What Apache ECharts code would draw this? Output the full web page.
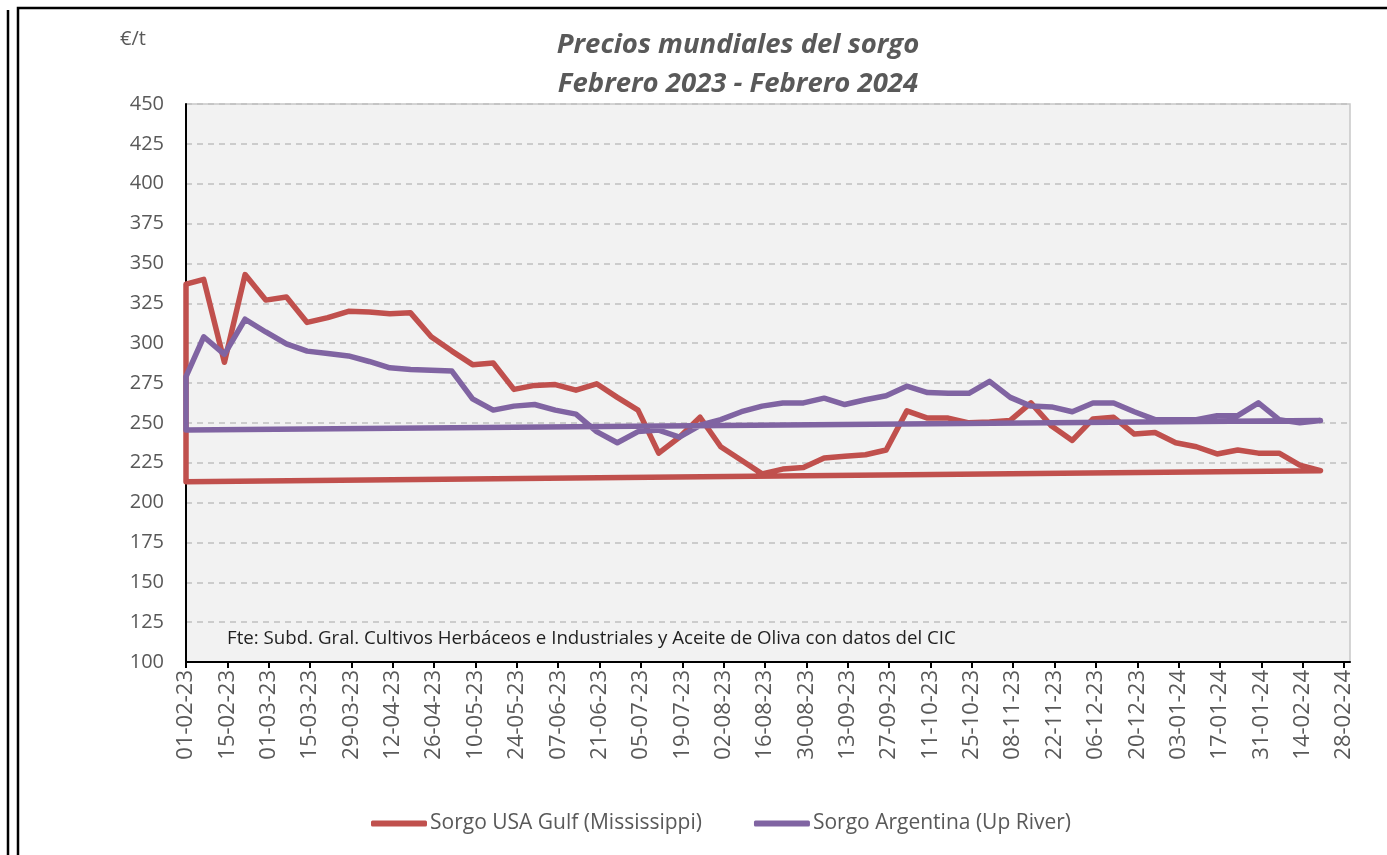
<!DOCTYPE html>
<html>
<head>
<meta charset="utf-8">
<script src="https://cdn.jsdelivr.net/npm/echarts@6/dist/echarts.min.js"></script>
<style>
  html, body { margin: 0; padding: 0; background: #fff; }
  #chart { width: 1387px; height: 855px; }
</style>
</head>
<body>
<div id="chart"></div>
<script>
// fechas de cotización (la serie se cierra volviendo al primer punto, como en la hoja original)
const dates = ['01-02-23', '01-02-23',
  '07-02-23', '14-02-23', '21-02-23', '28-02-23', '07-03-23', '14-03-23', '21-03-23', '28-03-23',
  '04-04-23', '11-04-23', '18-04-23', '25-04-23', '02-05-23', '09-05-23', '16-05-23', '23-05-23',
  '30-05-23', '06-06-23', '13-06-23', '20-06-23', '27-06-23', '04-07-23', '11-07-23', '18-07-23',
  '25-07-23', '01-08-23', '08-08-23', '15-08-23', '22-08-23', '29-08-23', '05-09-23', '12-09-23',
  '19-09-23', '26-09-23', '03-10-23', '10-10-23', '17-10-23', '24-10-23', '31-10-23', '07-11-23',
  '14-11-23', '21-11-23', '28-11-23', '05-12-23', '12-12-23', '19-12-23', '26-12-23', '02-01-24',
  '09-01-24', '16-01-24', '23-01-24', '30-01-24', '06-02-24', '13-02-24', '20-02-24',
  '01-02-23']

const usaGulf = [213, 337,
  340, 288, 343, 327, 329, 313, 316, 320, 319.5, 318.5, 319, 304, 295, 286.5, 287.5, 271,
  273.5, 274, 270.5, 274.5, 266, 258, 231, 241, 253.5, 235, 226.5, 218, 221, 222, 228, 229,
  230, 233, 257.5, 253, 253, 250, 250.5, 251.5, 262.5, 248, 239, 252.5, 253.5, 243, 244, 237.5,
  235, 230.5, 233, 231, 231, 223.5, 220,
  213]

const argentina = [245.5, 279,
  304, 293, 315, 307, 299.5, 295, 293.5, 292, 288.5, 284.5, 283.5, 283, 282.5, 265, 258, 260.5,
  261.5, 258, 255.5, 244.5, 237.5, 244.5, 245.5, 241, 248.5, 252, 257, 260.5, 262.5, 262.5, 265.5, 261.5,
  264.5, 267, 273, 269, 268.5, 268.5, 276, 266, 260.5, 260, 257, 262.5, 262.5, 257, 252, 252,
  252, 254.5, 254.5, 262.5, 252, 250, 251.5,
  245.5]

const tickLabels = ['01-02-23', '15-02-23', '01-03-23', '15-03-23', '29-03-23', '12-04-23', '26-04-23',
  '10-05-23', '24-05-23', '07-06-23', '21-06-23', '05-07-23', '19-07-23', '02-08-23', '16-08-23',
  '30-08-23', '13-09-23', '27-09-23', '11-10-23', '25-10-23', '08-11-23', '22-11-23', '06-12-23',
  '20-12-23', '03-01-24', '17-01-24', '31-01-24', '14-02-24', '28-02-24']

const seriesNames = ['Sorgo USA Gulf (Mississippi)', 'Sorgo Argentina (Up River)']
const colors = ['#c0504d', '#8064a2']

const DAY = 86400000
const origin = Date.UTC(2023, 1, 1)
function toDay(s) {
  var p = s.split('-')
  return Math.round((Date.UTC(2000 + Number(p[2]), Number(p[1]) - 1, Number(p[0])) - origin) / DAY)
}
function pad(n) { return (n < 10 ? '0' : '') + n }
function fmt(d) {
  var t = new Date(origin + d * DAY)
  return pad(t.getUTCDate()) + '-' + pad(t.getUTCMonth() + 1) + '-' + String(t.getUTCFullYear()).slice(2)
}

const tickDays = tickLabels.map(toDay)
const font = 'Open Sans'

var chart = echarts.init(document.getElementById('chart'))
chart.setOption({
  animation: false,
  backgroundColor: '#fff',
  textStyle: { fontFamily: font },
  title: {
    text: 'Precios mundiales del sorgo\nFebrero 2023 - Febrero 2024',
    left: 733,
    top: 21,
    textAlign: 'center',
    textStyle: {
      fontFamily: font,
      fontSize: 27.5,
      fontStyle: 'italic',
      fontWeight: 'bold',
      color: '#595959',
      lineHeight: 39
    }
  },
  legend: {
    left: 366,
    top: 808,
    icon: 'roundRect',
    itemWidth: 56,
    itemHeight: 6,
    itemGap: 52,
    data: seriesNames,
    textStyle: { fontFamily: font, fontSize: 21, color: '#595959', padding: [0, 0, 0, -2] }
  },
  grid: {
    left: 186,
    right: 37,
    top: 104,
    bottom: 193,
    show: true,
    backgroundColor: '#f2f2f2',
    borderColor: '#c8c8c8',
    borderWidth: 1.5
  },
  xAxis: {
    type: 'value',
    min: 0,
    max: 394,
    splitLine: { show: false },
    axisLine: { onZero: false, lineStyle: { color: '#000', width: 2 } },
    axisTick: { show: true, length: 6, lineStyle: { color: '#000', width: 2 }, customValues: tickDays },
    axisLabel: {
      rotate: 90,
      margin: 8,
      fontSize: 22,
      color: '#595959',
      fontFamily: font,
      customValues: tickDays,
      formatter: function (v) { return fmt(v) }
    }
  },
  yAxis: {
    type: 'value',
    min: 100,
    max: 450,
    interval: 25,
    axisLine: { show: true, lineStyle: { color: '#000', width: 2 } },
    axisTick: { show: false },
    axisLabel: { margin: 22, fontSize: 20, color: '#595959', fontFamily: font },
    splitLine: { lineStyle: { color: '#c0c0c0', width: 1.5, type: [6, 5] } }
  },
  graphic: [
    { type: 'text', left: 120, top: 29, style: { text: '€/t', font: '20px "Open Sans"', fill: '#595959' } },
    { type: 'text', left: 227, top: 629, style: { text: 'Fte: Subd. Gral. Cultivos Herbáceos e Industriales y Aceite de Oliva con datos del CIC', font: '18.7px "Open Sans"', fill: '#1f1f1f' } },
    { type: 'line', shape: { x1: 8, y1: 10, x2: 8, y2: 860 }, style: { stroke: '#000', lineWidth: 2.5 } },
    { type: 'rect', shape: { x: 18, y: 8, width: 1400, height: 900 }, style: { fill: 'none', stroke: '#000', lineWidth: 2.5 } }
  ],
  series: [usaGulf, argentina].map(function (vals, i) {
    return {
      name: seriesNames[i],
      type: 'line',
      symbol: 'none',
      color: colors[i],
      lineStyle: { width: 5.5, color: colors[i], cap: 'round', join: 'round' },
      data: vals.map(function (v, j) { return [toDay(dates[j]), v] })
    }
  })
})
</script>
</body>
</html>
